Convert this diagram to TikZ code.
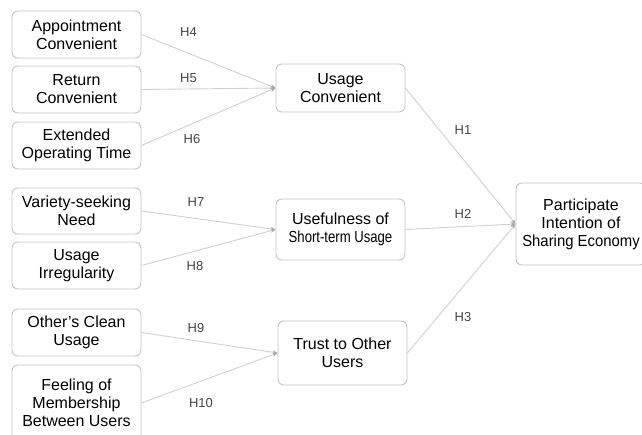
\documentclass[tikz,border=0pt]{standalone}
\usepackage{fontspec}
\setmainfont{Liberation Sans}
\usetikzlibrary{arrows.meta}
\definecolor{boxline}{HTML}{C4C4C4}
\definecolor{connline}{HTML}{D0D0D0}
\definecolor{tipcol}{HTML}{A8A8A8}
\definecolor{hlab}{HTML}{444444}
\tikzset{
  box/.style={draw=boxline, line width=0.9pt, rounded corners=6pt, fill=white,
    align=center, inner sep=0pt, font=\fontsize{16}{18}\selectfont, text=black},
  conn/.style={draw=connline, line width=0.9pt,
    -{Stealth[length=5pt,width=4pt,color=tipcol]}},
  hl/.style={font=\fontsize{13}{15}\selectfont, text=hlab, inner sep=0pt}
}
\begin{document}
\begin{tikzpicture}[x=1pt,y=-1pt]
\useasboundingbox (0,0) rectangle (642,435);
% left column
\node[box, minimum width=129, minimum height=47] (a1) at (76.5,34.5) {Appointment\\Convenient};
\node[box, minimum width=129, minimum height=47] (a2) at (76.5,89.5) {Return\\Convenient};
\node[box, minimum width=129, minimum height=47] (a3) at (76.5,145.5) {Extended\\Operating Time};
\node[box, minimum width=129, minimum height=46] (b1) at (76.5,211) {Variety-seeking\\Need};
\node[box, minimum width=129, minimum height=47] (b2) at (76.5,265.5) {Usage\\Irregularity};
\node[box, minimum width=129, minimum height=47] (c1) at (76.5,332.5) {Other's Clean\\Usage};
\node[box, minimum width=129, minimum height=76] (c2) at (76.5,403) {Feeling of\\Membership\\Between Users};
% middle column
\node[box, minimum width=129, minimum height=48] (uc) at (340.5,88) {Usage\\Convenient};
\node[box, minimum width=129, minimum height=61] (us) at (340.5,229.5) {Usefulness of\\\scalebox{0.82}[1]{Short-term Usage}};
\node[box, minimum width=129, minimum height=64] (tr) at (342.5,353) {Trust to Other\\Users};
% right
\node[box, minimum width=130, minimum height=82] (pi) at (581,224) {Participate\\Intention of\\\scalebox{0.93}[1]{Sharing Economy}};
% connectors
\draw[conn] (a1.east) -- (uc.west);
\draw[conn] (a2.east) -- (uc.west);
\draw[conn] (a3.east) -- (uc.west);
\draw[conn] (b1.east) -- (us.west);
\draw[conn] (b2.east) -- (us.west);
\draw[conn] (c1.east) -- (tr.west);
\draw[conn] (c2.east) -- (tr.west);
\draw[conn] (uc.east) -- (pi.west);
\draw[conn] (us.east) -- (pi.west);
\draw[conn] (tr.east) -- (pi.west);
% labels
\node[hl] (h4) at (188.5,32) {H4};
\node[hl] (h5) at (188.5,78) {H5};
\node[hl] (h6) at (192,139) {H6};
\node[hl] (h7) at (196,202) {H7};
\node[hl] (h8) at (195,266) {H8};
\node[hl] (h9) at (196,328) {H9};
\node[hl] (h10) at (201,403) {H10};
\node[hl] (h1) at (463,130) {H1};
\node[hl] (h2) at (463,214) {H2};
\node[hl] (h3) at (463,317) {H3};
\end{tikzpicture}
\end{document}
